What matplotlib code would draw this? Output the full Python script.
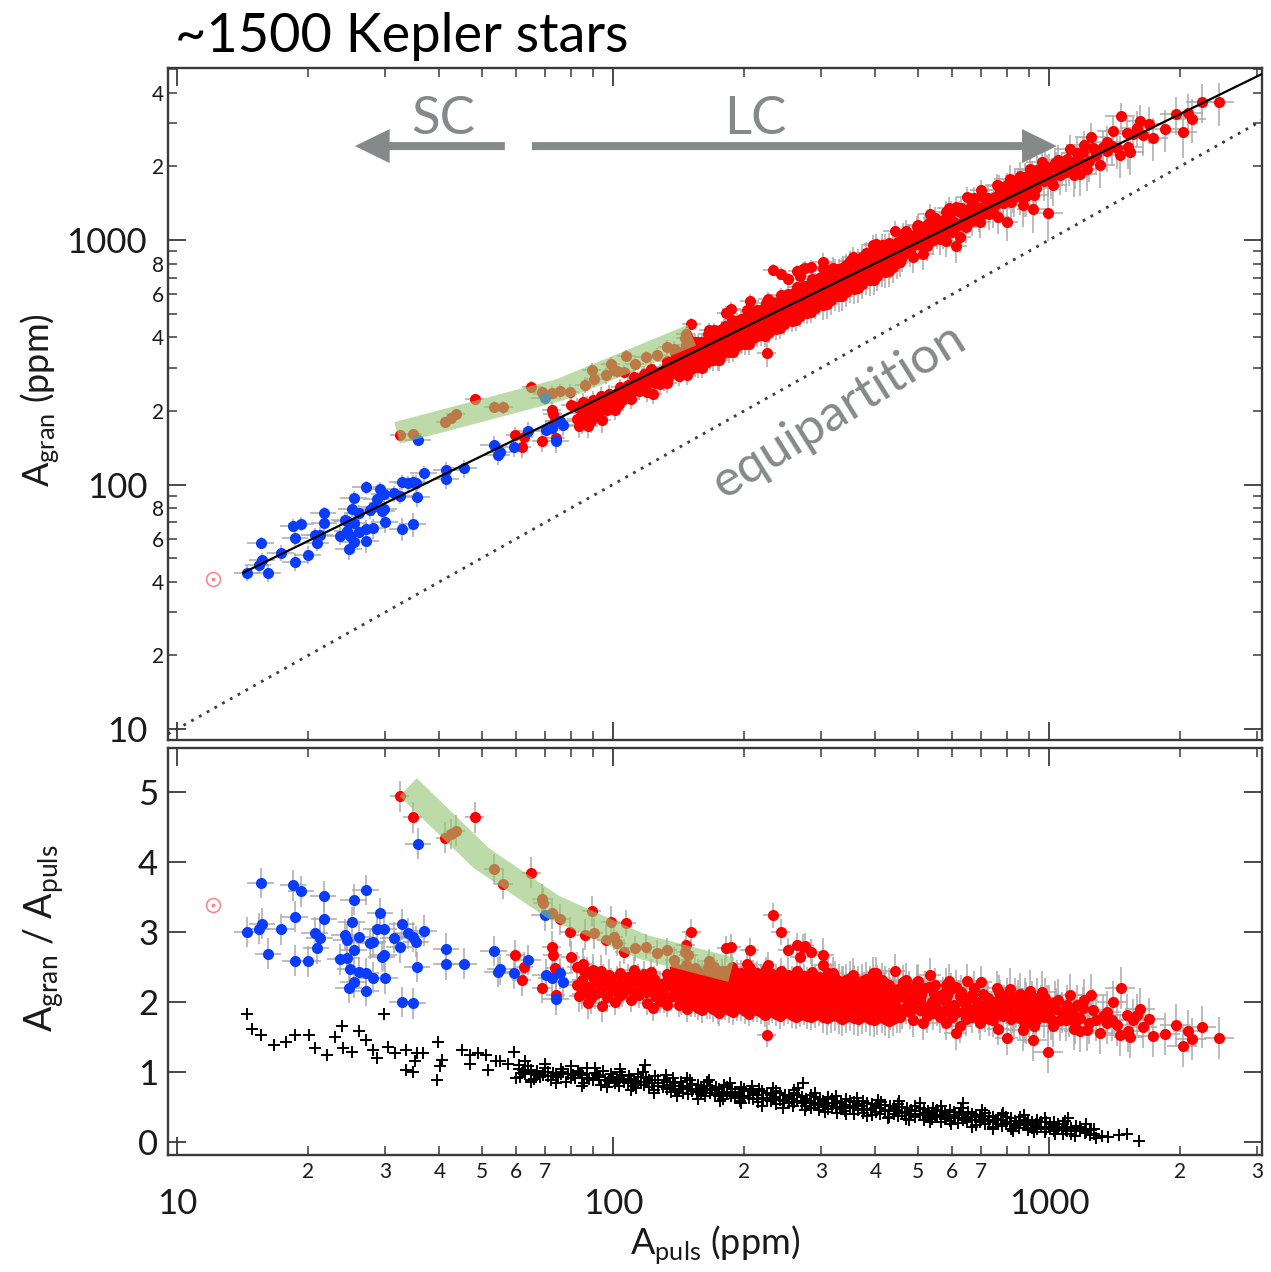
import numpy as np
import matplotlib
matplotlib.use("Agg")
import matplotlib.pyplot as plt
from matplotlib.ticker import FixedLocator, FuncFormatter
from matplotlib.patches import FancyArrowPatch, ArrowStyle

plt.rcParams['font.family'] = ['Lato', 'DejaVu Sans']
plt.rcParams['axes.unicode_minus'] = False

# ---------------------------------------------------------------- data
# Sun
sun_apuls = 12.1
sun_agran = 41.0

# short-cadence stars: (A_puls [ppm], A_gran / A_puls)
blue_stars = [
    (15.6, 3.70), (18.5, 3.67), (19.3, 3.58), (21.7, 3.51), (25.5, 3.46), (27.1, 3.60),
    (14.5, 3.00), (15.4, 3.05), (15.7, 3.12), (17.3, 3.04), (18.7, 3.22), (21.8, 3.19),
    (16.2, 2.69), (18.7, 2.59), (20.0, 2.58), (20.7, 2.99), (21.3, 2.92), (20.9, 2.77),
    (25.2, 3.14), (24.3, 2.96), (24.5, 2.89), (26.2, 2.93), (25.5, 2.74), (23.7, 2.61),
    (24.6, 2.63), (27.7, 2.84), (28.2, 2.86), (29.3, 3.27), (28.8, 3.04), (29.9, 3.05),
    (29.5, 2.65), (29.8, 2.67), (25.0, 2.47), (26.2, 2.43), (27.2, 2.41), (28.2, 2.35),
    (30.0, 2.34), (25.5, 2.28), (24.8, 2.20), (27.1, 2.16), (32.9, 3.11), (31.5, 2.92),
    (32.4, 2.78), (33.9, 2.98), (34.8, 2.93), (35.4, 2.86), (36.9, 3.02), (35.6, 2.50),
    (32.9, 2.00), (34.8, 1.98), (35.8, 4.26), (41.5, 2.76), (41.5, 2.54), (45.6, 2.55),
    (53.3, 2.73), (54.4, 2.43), (55.2, 2.47), (59.2, 2.41), (63.8, 2.60), (70.1, 2.39),
    (72.5, 2.34), (75.6, 2.41), (76.9, 2.28), (74.0, 2.04), (69.9, 3.24),
]

# long-cadence stars, low-amplitude end and outliers
red_sparse = [
    (32.4, 4.94), (34.7, 4.64), (48.2, 4.64), (65.0, 3.85), (41.3, 4.35), (42.5, 4.40),
    (43.6, 4.45), (53.3, 3.90), (56.1, 3.69), (68.8, 3.47), (69.0, 3.41), (72.5, 3.27),
    (75.6, 3.18), (86.3, 2.96), (90.5, 2.98), (96.6, 2.89), (100.4, 2.93), (102.3, 2.84),
    (106.2, 2.72), (112.3, 2.77), (118.9, 2.79), (125.9, 2.70), (133.3, 2.74), (138.3, 2.60),
    (146.5, 2.72), (149.0, 2.67), (170.6, 2.50), (173.6, 2.41), (89.3, 3.30), (98.9, 3.15),
    (107.4, 3.13), (151.4, 3.00), (59.7, 2.67), (62.6, 2.50), (61.7, 2.31), (68.6, 2.20),
    (72.5, 2.79), (72.9, 2.67), (73.5, 2.48), (74.0, 2.10), (80.0, 2.65), (82.7, 2.24),
    (83.5, 2.08), (87.8, 1.98), (94.4, 1.94), (123.3, 1.91), (133.3, 1.96), (143.3, 2.00),
    (175.4, 1.84), (79.7, 3.00), (82.8, 2.50), (85.4, 2.55), (87.2, 2.43), (90.0, 2.46),
    (147.0, 2.81), (182.0, 2.77), (187.0, 2.79), (203.0, 2.55), (206.0, 2.74),
    (233.0, 3.24), (243.0, 3.00), (252.0, 2.74), (265.0, 2.81), (273.0, 2.79), (285.0, 2.72),
    (303.0, 2.67), (303.0, 2.53), (268.0, 2.65), (227.0, 2.53), (225.0, 1.53), (320.0, 2.41),
    (337.0, 2.27), (356.0, 2.39), (395.0, 2.41), (275.0, 2.80),
]

# long-cadence stars, 85-140 ppm
red_dense_a = [
    (85, 2.12), (85, 2.31), (86, 2.44), (89, 2.05), (88, 2.21), (90, 2.36), (93, 2.15),
    (92, 2.29), (94, 2.45), (97, 2.07), (96, 2.23), (98, 2.39), (101, 2.00), (100, 2.17),
    (102, 2.33), (105, 2.11), (106, 2.25), (104, 2.41), (110, 2.03), (109, 2.18), (111, 2.30),
    (112, 2.46), (115, 2.10), (116, 2.22), (114, 2.36), (120, 1.99), (119, 2.15), (121, 2.27),
    (122, 2.43), (125, 2.08), (126, 2.21), (124, 2.33), (131, 2.02), (130, 2.14), (132, 2.29),
    (133, 2.40), (137, 2.09), (136, 2.23), (138, 2.35), (139, 2.49),
    (87, 2.18), (91, 2.12), (95, 2.32), (99, 2.26), (103, 2.08), (108, 2.36), (113, 2.15),
    (117, 2.30), (123, 2.18), (128, 2.26), (134, 2.06), (128, 2.02), (140, 2.16), (140, 2.30),
    (118, 2.40), (104, 2.22),
]

# long-cadence stars, 140-450 ppm
red_dense_b = [
    (142, 1.96), (143, 2.09), (141, 2.21), (144, 2.35), (142, 2.46),
    (148, 1.90), (147, 2.03), (149, 2.15), (148, 2.29), (150, 2.40), (147, 2.53),
    (154, 1.97), (155, 2.11), (153, 2.22), (156, 2.37), (154, 2.49),
    (160, 1.88), (161, 2.01), (159, 2.14), (162, 2.26), (160, 2.39),
    (167, 1.94), (166, 2.06), (168, 2.20), (167, 2.31), (169, 2.44), (166, 2.58),
    (174, 1.86), (175, 1.99), (173, 2.13), (176, 2.25), (174, 2.38),
    (181, 1.92), (182, 2.05), (180, 2.17), (183, 2.31), (181, 2.45),
    (189, 1.85), (188, 1.98), (190, 2.10), (189, 2.24), (191, 2.36), (188, 2.50),
    (197, 1.91), (198, 2.03), (196, 2.16), (199, 2.30), (197, 2.42),
    (205, 1.83), (206, 1.96), (204, 2.09), (207, 2.23), (205, 2.35), (206, 2.48),
    (214, 1.89), (215, 2.02), (213, 2.15), (216, 2.28), (214, 2.41),
    (223, 1.82), (224, 1.95), (222, 2.08), (225, 2.21), (223, 2.34), (224, 2.47),
    (232, 1.88), (233, 2.01), (231, 2.14), (234, 2.27), (232, 2.40),
    (242, 1.80), (243, 1.93), (241, 2.06), (244, 2.19), (242, 2.32), (243, 2.45),
    (252, 1.86), (253, 1.99), (251, 2.12), (254, 2.25), (252, 2.38),
    (263, 1.79), (264, 1.92), (262, 2.05), (265, 2.18), (263, 2.31), (264, 2.44),
    (274, 1.85), (275, 1.98), (273, 2.11), (276, 2.24), (274, 2.37),
    (285, 1.78), (286, 1.91), (284, 2.04), (287, 2.17), (285, 2.30), (286, 2.43),
    (297, 1.84), (298, 1.97), (296, 2.10), (299, 2.23), (297, 2.36),
    (310, 1.77), (311, 1.90), (309, 2.03), (312, 2.16), (310, 2.29), (311, 2.42),
    (323, 1.83), (324, 1.96), (322, 2.09), (325, 2.22), (323, 2.35),
    (336, 1.76), (337, 1.89), (335, 2.02), (338, 2.15), (336, 2.28),
    (350, 1.82), (351, 1.95), (349, 2.08), (352, 2.21), (350, 2.34),
    (365, 1.75), (366, 1.88), (364, 2.01), (367, 2.14), (365, 2.27),
    (380, 1.81), (381, 1.94), (379, 2.07), (382, 2.20), (380, 2.33),
    (396, 1.74), (397, 1.87), (395, 2.00), (398, 2.13), (396, 2.26),
    (413, 1.80), (414, 1.93), (412, 2.06), (415, 2.19), (413, 2.32),
    (430, 1.73), (431, 1.86), (429, 1.99), (432, 2.12), (430, 2.25),
    (448, 1.79), (449, 1.92), (447, 2.05), (450, 2.18),
]

red_dense_b2 = [
    (145, 2.02), (145, 2.15), (146, 2.28), (145, 2.41), (151, 1.96), (151, 2.09), (152, 2.22),
    (151, 2.34), (151, 2.47), (157, 1.92), (157, 2.05), (158, 2.17), (157, 2.30), (157, 2.43),
    (164, 1.94), (163, 2.07), (164, 2.20), (163, 2.33), (165, 2.50), (170, 1.90), (171, 2.00),
    (170, 2.13), (171, 2.26), (170, 2.38), (178, 1.92), (177, 2.05), (178, 2.18), (177, 2.31),
    (178, 2.44), (185, 1.88), (185, 2.00), (186, 2.12), (185, 2.25), (186, 2.38), (193, 1.91),
    (193, 2.04), (194, 2.17), (193, 2.29), (193, 2.42), (201, 1.87), (201, 1.99), (202, 2.12),
    (201, 2.26), (201, 2.39), (210, 1.90), (209, 2.02), (210, 2.15), (209, 2.29), (210, 2.42),
    (219, 1.86), (218, 1.98), (219, 2.11), (218, 2.24), (219, 2.37), (228, 1.85), (227, 1.97),
    (228, 2.10), (227, 2.23), (228, 2.36), (237, 1.83), (237, 1.96), (238, 2.08), (237, 2.21),
    (237, 2.34), (247, 1.84), (247, 1.96), (248, 2.09), (247, 2.22), (247, 2.35), (258, 1.81),
    (257, 1.94), (258, 2.07), (257, 2.20), (258, 2.33), (268, 1.82), (269, 1.95), (268, 2.08),
    (269, 2.21), (268, 2.34), (279, 1.80), (280, 1.93), (279, 2.06), (280, 2.19), (279, 2.32),
    (291, 1.81), (291, 1.94), (292, 2.07), (291, 2.20), (291, 2.33), (303, 1.79), (304, 1.92),
    (303, 2.05), (304, 2.18), (303, 2.31), (316, 1.80), (317, 1.93), (316, 2.06), (317, 2.19),
    (316, 2.32), (330, 1.78), (329, 1.91), (330, 2.04), (329, 2.17), (330, 2.30), (343, 1.79),
    (343, 1.92), (344, 2.05), (343, 2.18), (343, 2.31), (357, 1.77), (358, 1.90), (357, 2.03),
    (358, 2.16), (357, 2.29), (372, 1.78), (373, 1.91), (372, 2.04), (373, 2.17), (372, 2.30),
    (388, 1.76), (388, 1.89), (389, 2.02), (388, 2.15), (388, 2.28), (404, 1.77), (405, 1.90),
    (404, 2.03), (405, 2.16), (404, 2.29), (421, 1.75), (421, 1.88), (422, 2.01), (421, 2.14),
    (421, 2.27), (439, 1.76), (439, 1.89), (440, 2.02), (439, 2.15),
]

# long-cadence stars, above 400 ppm
red_dense_c = [
    (443, 2.45), (462, 2.29), (497, 2.29), (534, 2.39), (530, 2.22), (612, 2.22), (772, 2.08),
    (907, 2.16), (1050, 2.03), (1202, 2.03), (1459, 2.20), (1135, 1.84), (1260, 1.89),
    (1397, 1.74), (1506, 1.81), (1590, 1.81), (1641, 1.64), (1735, 1.51), (1845, 1.54),
    (1954, 1.67), (2088, 1.59), (2126, 1.47), (2025, 1.37), (2240, 1.64), (2459, 1.49),
    (800, 1.48), (918, 1.46), (870, 1.60), (997, 1.29), (1020, 1.65), (1060, 1.74),
    (1140, 1.62), (1220, 1.60), (1309, 1.55), (1355, 1.70), (1455, 1.53), (1530, 1.50),
    (1178, 1.77), (1196, 1.91), (1285, 1.74), (1355, 1.86), (1093, 1.74), (997, 1.84),
    (935, 1.86), (888, 1.70), (858, 1.77), (825, 1.86), (795, 1.93), (772, 1.91), (745, 1.74),
    (765, 1.62), (715, 1.81), (695, 1.70), (667, 1.79), (695, 1.93), (648, 1.93), (625, 1.65),
    (612, 1.55), (581, 1.70), (600, 1.79), (562, 1.79), (543, 1.84), (524, 1.93), (506, 2.03),
    (488, 2.05), (471, 1.93), (455, 2.08), (440, 2.12), (425, 2.03), (410, 1.93), (432, 1.84),
    (455, 1.79), (488, 1.74), (515, 1.70), (462, 2.17), (497, 2.15), (572, 2.12), (625, 2.08),
    (667, 2.10), (581, 2.00), (636, 1.86), (552, 2.00), (418, 2.17), (422, 1.89), (842, 1.93),
    (888, 1.98), (935, 1.74), (1178, 1.58), (1235, 1.70), (1430, 1.67), (1560, 1.74),
    (1520, 1.58), (401, 2.41), (471, 2.32), (502, 2.30), (560, 2.05), (590, 1.92), (640, 2.00),
    (680, 1.88), (720, 2.00), (740, 1.88), (820, 1.75), (850, 2.02), (960, 1.95), (980, 2.05),
    (910, 1.90), (760, 2.20), (700, 2.28), (650, 2.30), (590, 2.30), (545, 2.12), (480, 1.86),
    (520, 2.20), (580, 2.25), (860, 2.12), (940, 2.05), (800, 2.10), (1000, 1.95), (1040, 1.90),
    (1100, 1.95), (1120, 2.10), (1160, 1.95), (1250, 2.10), (1330, 1.80), (1400, 2.00),
    (1620, 1.90), (1700, 1.75),
    (460, 1.85), (470, 2.05), (478, 2.20), (485, 1.95), (505, 1.88), (510, 2.10), (525, 1.80),
    (540, 2.00), (548, 2.25), (555, 1.90), (570, 1.85), (585, 2.08), (595, 2.18), (605, 1.95),
    (615, 1.85), (630, 2.15), (645, 1.75), (655, 2.05), (660, 1.88), (672, 2.20), (685, 2.00),
    (690, 1.80), (705, 2.12), (710, 1.92), (725, 2.05), (730, 1.75), (750, 2.00), (755, 1.85),
    (770, 2.15), (785, 1.80), (790, 2.00), (810, 1.95), (815, 2.18), (830, 1.80), (835, 2.05),
    (865, 1.90), (875, 1.72), (880, 2.05), (900, 1.80), (915, 2.00), (925, 1.65), (950, 1.88),
    (965, 2.15), (975, 1.78), (990, 1.95), (1010, 1.75), (1030, 2.00), (1070, 1.85),
    (1110, 1.80), (1150, 1.70),
]

# second amplitude ratio (black crosses): (A_puls [ppm], ratio)
black_sparse = [
    (14.5, 1.83), (29.8, 1.83), (14.9, 1.62), (15.6, 1.53), (16.7, 1.39), (17.8, 1.43),
    (18.7, 1.53), (20.1, 1.53), (20.7, 1.34), (22.1, 1.24), (23.0, 1.50), (23.9, 1.65),
    (24.1, 1.34), (25.2, 1.29), (26.2, 1.58), (27.2, 1.46), (28.2, 1.31), (28.8, 1.20),
    (30.5, 1.36), (31.6, 1.27), (33.5, 1.31), (35.5, 1.27), (36.7, 1.27), (33.5, 1.03),
    (34.8, 1.00), (39.7, 1.43), (40.5, 1.17), (39.4, 0.89), (35.2, 1.15), (40.1, 1.08),
    (45.0, 1.31), (47.0, 1.24), (49.1, 1.27), (47.0, 1.12), (51.1, 1.24), (51.7, 1.03),
    (53.8, 1.15), (55.1, 1.15), (57.5, 1.12), (59.3, 1.28), (62.9, 1.15), (62.2, 1.03),
    (61.2, 0.93), (65.0, 0.89), (66.9, 0.98), (118.5, 1.10), (273.0, 0.84), (266.0, 0.77),
    (634.0, 0.56), (1104.0, 0.34), (1251.0, 0.17), (1367.0, 0.07), (1509.0, 0.12),
    (1609.0, 0.02), (1450.0, 0.10),
]

black_band = [
    (60, 0.92), (61, 1.04), (63, 0.97), (64, 1.08), (66, 0.90), (67, 1.01), (69, 0.95),
    (70, 1.06), (72, 0.88), (73, 0.99), (75, 0.93), (76, 1.04), (78, 0.86), (79, 0.97),
    (82, 0.91), (83, 1.02), (86, 0.84), (85, 0.95), (87, 1.05), (90, 0.89), (91, 0.99),
    (94, 0.82), (93, 0.93), (95, 1.02), (98, 0.87), (99, 0.97), (103, 0.80), (102, 0.90),
    (104, 1.00), (108, 0.84), (109, 0.94), (113, 0.77), (112, 0.87), (114, 0.97), (118, 0.81),
    (119, 0.91), (124, 0.74), (123, 0.84), (125, 0.94), (130, 0.78), (131, 0.88), (136, 0.71),
    (135, 0.81), (137, 0.91), (142, 0.75), (143, 0.85), (149, 0.68), (148, 0.78), (150, 0.88),
    (156, 0.72), (157, 0.82), (163, 0.65), (162, 0.75), (164, 0.85), (171, 0.69), (172, 0.79),
    (179, 0.62), (178, 0.72), (180, 0.82), (187, 0.66), (188, 0.76), (196, 0.59), (195, 0.69),
    (197, 0.79), (205, 0.63), (206, 0.73), (215, 0.57), (214, 0.67), (216, 0.76), (225, 0.60),
    (226, 0.70), (236, 0.54), (235, 0.64), (237, 0.73), (247, 0.58), (248, 0.67), (259, 0.52),
    (258, 0.61), (260, 0.70), (271, 0.55), (272, 0.64), (284, 0.49), (283, 0.58), (285, 0.67),
    (297, 0.45), (296, 0.53), (298, 0.62), (311, 0.47), (310, 0.56), (312, 0.64), (326, 0.42),
    (325, 0.50), (327, 0.59), (341, 0.44), (340, 0.53), (342, 0.62), (357, 0.40), (356, 0.48),
    (358, 0.57), (374, 0.42), (373, 0.51), (375, 0.59), (392, 0.38), (391, 0.46), (393, 0.54),
    (410, 0.40), (409, 0.48), (411, 0.57), (430, 0.36), (429, 0.44), (431, 0.52), (450, 0.37),
    (449, 0.46), (451, 0.54), (471, 0.33), (470, 0.41), (472, 0.49), (493, 0.35), (492, 0.44),
    (494, 0.52), (516, 0.31), (515, 0.39), (517, 0.47), (540, 0.33), (539, 0.41), (541, 0.49),
    (566, 0.29), (565, 0.36), (567, 0.44), (592, 0.30), (591, 0.39), (593, 0.46), (620, 0.27),
    (619, 0.34), (621, 0.42), (650, 0.28), (649, 0.36), (651, 0.43), (680, 0.24), (679, 0.31),
    (681, 0.39), (712, 0.25), (711, 0.33), (713, 0.41), (745, 0.22), (744, 0.29), (746, 0.36),
    (780, 0.23), (779, 0.31), (781, 0.38), (817, 0.19), (816, 0.26), (818, 0.34), (855, 0.20),
    (854, 0.28), (856, 0.35), (895, 0.17), (894, 0.24), (896, 0.31), (937, 0.18), (936, 0.25),
    (938, 0.32), (981, 0.14), (980, 0.21), (982, 0.28), (1027, 0.15), (1026, 0.23),
    (1028, 0.29), (1075, 0.12), (1074, 0.18), (1076, 0.25), (1125, 0.12), (1126, 0.20),
    (1180, 0.15), (1181, 0.22), (1240, 0.10), (1241, 0.17),
]

black_band_b = [
    (62, 0.98), (65, 1.03), (68, 0.93), (71, 1.00), (74, 0.95), (77, 1.00), (80, 0.92),
    (84, 0.99), (88, 0.90), (92, 0.95), (96, 0.88), (100, 0.93), (101, 0.84), (105, 0.95),
    (106, 0.86), (110, 0.90), (111, 0.80), (116, 0.86), (116, 0.93), (121, 0.78), (121, 0.88),
    (127, 0.80), (127, 0.89), (133, 0.76), (133, 0.85), (139, 0.74), (139, 0.84), (145, 0.70),
    (145, 0.80), (152, 0.73), (152, 0.83), (159, 0.68), (159, 0.78), (167, 0.70), (167, 0.80),
    (175, 0.66), (175, 0.75), (183, 0.68), (183, 0.78), (191, 0.63), (191, 0.72), (200, 0.65),
    (200, 0.75), (210, 0.61), (210, 0.70), (220, 0.63), (220, 0.73), (230, 0.58), (230, 0.67),
    (241, 0.60), (241, 0.70), (253, 0.56), (253, 0.64), (265, 0.58), (265, 0.67), (277, 0.52),
    (277, 0.61), (290, 0.55), (290, 0.64), (304, 0.50), (304, 0.59), (318, 0.52), (318, 0.61),
    (333, 0.47), (333, 0.56), (349, 0.49), (349, 0.58), (365, 0.45), (365, 0.54), (383, 0.47),
    (383, 0.55), (401, 0.43), (401, 0.51), (420, 0.44), (420, 0.53), (440, 0.40), (440, 0.49),
    (460, 0.42), (460, 0.50), (482, 0.38), (482, 0.46), (505, 0.40), (505, 0.48), (528, 0.36),
    (528, 0.44), (553, 0.37), (553, 0.46), (579, 0.33), (579, 0.41), (606, 0.35), (606, 0.43),
    (635, 0.31), (635, 0.39), (665, 0.32), (665, 0.40), (696, 0.28), (696, 0.36), (728, 0.30),
    (728, 0.37), (762, 0.26), (762, 0.33), (798, 0.27), (798, 0.35), (836, 0.23), (836, 0.30),
    (875, 0.24), (875, 0.32), (916, 0.20), (916, 0.28), (959, 0.22), (959, 0.29), (1004, 0.18),
    (1004, 0.25), (1050, 0.19), (1050, 0.26), (1100, 0.15), (1100, 0.22), (1152, 0.16),
    (1152, 0.23), (1210, 0.13), (1210, 0.19), (1270, 0.11), (1270, 0.18), (1320, 0.09),
]

black_band_edges = [
    (61, 1.10), (65, 0.86), (70, 1.12), (74, 0.84), (80, 1.08), (85, 0.80), (91, 1.06),
    (97, 0.78), (104, 1.04), (110, 0.74), (117, 1.00), (124, 0.70), (132, 0.96), (140, 0.66),
    (148, 0.92), (157, 0.62), (166, 0.88), (176, 0.58), (186, 0.84), (197, 0.55), (208, 0.80),
    (220, 0.52), (233, 0.77), (246, 0.49), (260, 0.74), (275, 0.46), (291, 0.70), (307, 0.43),
    (325, 0.66), (343, 0.40), (363, 0.63), (383, 0.37), (405, 0.60), (428, 0.34), (452, 0.58),
    (478, 0.31), (505, 0.55), (534, 0.28), (564, 0.51), (596, 0.25), (630, 0.48), (665, 0.22),
    (703, 0.45), (743, 0.19), (785, 0.42), (829, 0.16), (876, 0.38), (926, 0.14), (978, 0.34),
    (1033, 0.11), (1090, 0.30), (1150, 0.08), (1215, 0.25), (1280, 0.06),
    (63, 1.00), (67, 0.96), (71, 0.94), (76, 0.97), (81, 0.95), (87, 0.92), (93, 0.89),
    (99, 0.91), (106, 0.88), (113, 0.83), (120, 0.85), (127, 0.84), (135, 0.78), (143, 0.80),
    (151, 0.76), (160, 0.73), (169, 0.74), (178, 0.68), (188, 0.71), (198, 0.66), (209, 0.67),
    (221, 0.62), (233, 0.63), (246, 0.60), (260, 0.57), (274, 0.59), (289, 0.55), (305, 0.53),
    (322, 0.55), (339, 0.50), (358, 0.52), (377, 0.47), (398, 0.49), (420, 0.45), (443, 0.46),
    (467, 0.43), (492, 0.40), (519, 0.42), (548, 0.38), (578, 0.36), (610, 0.38), (643, 0.34),
    (678, 0.35), (715, 0.30), (754, 0.32), (796, 0.29), (839, 0.25), (885, 0.27), (933, 0.23),
    (984, 0.19), (1038, 0.21), (1095, 0.17), (1155, 0.18), (1218, 0.14),
]

# typical uncertainties read per amplitude range
err_band_edges = [100.0, 300.0, 800.0]
ratio_err_band = [0.22, 0.18, 0.24, 0.30]
apuls_frac_err_band = [0.05, 0.05, 0.06, 0.08]
blue_ratio_err = 0.22
blue_apuls_frac_err = 0.07

# power-law fit A_gran = norm * A_puls ** slope
fit_norm = 4.3
fit_slope = 0.873
fit_start = 14.2

# highlighted sequence
band_top_apuls = [32.0, 75.5, 151.7]
band_top_agran = [162.6, 243.8, 408.0]
band_bot_apuls = [33.9, 49.8, 72.8, 116.6, 187.0]
band_bot_ratio = [5.07, 4.06, 3.36, 2.79, 2.46]

# SC / LC regimes (A_puls limits of the arrows, arrow height in A_gran)
sc_arrow = (56.5, 25.6)
lc_arrow = (65.2, 1042.0)
arrow_level = 2421.0

xlim = (9.54, 3080.0)
ylim_top = (9.02, 5050.0)
ylim_bot = (-0.186, 5.629)

# ---------------------------------------------------------------- arrays
blue = np.array(blue_stars)
red = np.array(red_sparse + red_dense_a + red_dense_b + red_dense_b2 + red_dense_c,
               dtype=float)
black = np.array(black_sparse + black_band + black_band_b + black_band_edges, dtype=float)


def uncertainties(apuls):
    idx = np.searchsorted(err_band_edges, apuls)
    return (np.array(apuls_frac_err_band)[idx] * apuls,
            np.array(ratio_err_band)[idx])


red_x, red_r = red[:, 0], red[:, 1]
red_g = red_x * red_r
red_xe, red_re = uncertainties(red_x)

blue_x, blue_r = blue[:, 0], blue[:, 1]
blue_g = blue_x * blue_r
blue_xe = blue_apuls_frac_err * blue_x
blue_re = np.full_like(blue_x, blue_ratio_err)

# ---------------------------------------------------------------- figure
W, H = 1271, 1272
fig = plt.figure(figsize=(W / 100, H / 100), dpi=100)
fig.patch.set_facecolor('white')

ax1 = fig.add_axes([168 / W, 1 - 740 / H, 1094 / W, 672 / H])
ax2 = fig.add_axes([168 / W, 1 - 1155 / H, 1094 / W, 407 / H])

RED = '#ff0000'
BLUE = '#0a3cff'
ERR = '#a9a9a9'
GREY = '#848989'
BAND = '#93c673'
SPINE = '#3a3a3a'

# ---- top panel
ax1.errorbar(red_x, red_g, xerr=red_xe, yerr=red_re * red_x, fmt='none',
             ecolor=ERR, elinewidth=1.1, capsize=0, zorder=1)
ax1.errorbar(blue_x, blue_g, xerr=blue_xe, yerr=blue_re * blue_x, fmt='none',
             ecolor=ERR, elinewidth=1.1, capsize=0, zorder=1)
ax1.plot(red_x, red_g, 'o', color=RED, ms=8, mec='none', zorder=3)
ax1.plot(blue_x, blue_g, 'o', color=BLUE, ms=8, mec='none', zorder=3.5)

eq = np.array(xlim)
ax1.plot(eq, eq, color='#3c3c3c', lw=2.0, ls=(0, (1, 2.2)), zorder=2)

fx = np.array([fit_start, xlim[1]])
ax1.plot(fx, fit_norm * fx ** fit_slope, color='black', lw=1.6, zorder=5)

ax1.plot(band_top_apuls, band_top_agran, color=BAND, alpha=0.62, lw=16,
         solid_capstyle='butt', solid_joinstyle='miter', zorder=4)

ax1.plot(sun_apuls, sun_agran, 'o', ms=10, mfc='none', mec='#ff8080', mew=1.1, zorder=6)
ax1.plot(sun_apuls, sun_agran, 'o', ms=1.6, color='#ff8080', zorder=6)

style = ArrowStyle('simple', head_length=1.0, head_width=0.98, tail_width=0.23)
for tail, tip in (sc_arrow, lc_arrow):
    ax1.add_patch(FancyArrowPatch((tail, arrow_level), (tip, arrow_level),
                                  arrowstyle=style, mutation_scale=25, color=GREY,
                                  lw=0, shrinkA=0, shrinkB=0, zorder=6))
ax1.text(40.7, 3120, 'SC', color=GREY, fontsize=38, ha='center', va='center')
ax1.text(212, 3120, 'LC', color=GREY, fontsize=38, ha='center', va='center')
ax1.text(330, 200, 'equipartition', color=GREY, fontsize=37, rotation=32,
         ha='center', va='center', rotation_mode='anchor')

# ---- bottom panel
ax2.errorbar(red_x, red_r, xerr=red_xe, yerr=red_re, fmt='none',
             ecolor=ERR, elinewidth=1.1, capsize=0, zorder=1)
ax2.errorbar(blue_x, blue_r, xerr=blue_xe, yerr=blue_re, fmt='none',
             ecolor=ERR, elinewidth=1.1, capsize=0, zorder=1)
ax2.plot(red_x, red_r, 'o', color=RED, ms=8, mec='none', zorder=3)
ax2.plot(blue_x, blue_r, 'o', color=BLUE, ms=8, mec='none', zorder=3.5)
ax2.plot(black[:, 0], black[:, 1], '+', color='black', ms=8, mew=1.4, zorder=3)
ax2.plot(band_bot_apuls, band_bot_ratio, color=BAND, alpha=0.62, lw=18,
         solid_capstyle='butt', solid_joinstyle='miter', zorder=4)
ax2.plot(sun_apuls, sun_agran / sun_apuls, 'o', ms=10, mfc='none', mec='#ff8080',
         mew=1.1, zorder=6)
ax2.plot(sun_apuls, sun_agran / sun_apuls, 'o', ms=1.6, color='#ff8080', zorder=6)

# ---------------------------------------------------------------- axes
decade_major = [10, 100, 1000]
x_minor = [m * 10 ** k for k in (1, 2, 3) for m in range(2, 10)]
y_minor = [m * 10 ** k for k in (0, 1, 2, 3) for m in range(2, 10)]


def mantissa(v):
    return int(round(v / 10 ** np.floor(np.log10(v) + 1e-9)))


x_minor_fmt = FuncFormatter(lambda v, p: str(mantissa(v)) if mantissa(v) <= 7 else '')
y_minor_fmt = FuncFormatter(lambda v, p: str(mantissa(v)) if mantissa(v) in (2, 4, 6, 8) else '')
major_fmt = FuncFormatter(lambda v, p: '%d' % round(v))

for ax in (ax1, ax2):
    ax.set_xscale('log')
    ax.set_xlim(*xlim)
    ax.xaxis.set_major_locator(FixedLocator(decade_major))
    ax.xaxis.set_minor_locator(FixedLocator(x_minor))
    for s in ax.spines.values():
        s.set_linewidth(1.7)
        s.set_color(SPINE)
    ax.tick_params(which='both', direction='in', top=True, right=True,
                   color=SPINE, labelcolor='#1a1a1a')
    ax.tick_params(which='major', length=13, width=1.3)
    ax.tick_params(which='minor', length=6.5, width=1.1)

ax1.set_yscale('log')
ax1.set_ylim(*ylim_top)
ax1.yaxis.set_major_locator(FixedLocator(decade_major))
ax1.yaxis.set_minor_locator(FixedLocator(y_minor))
ax1.yaxis.set_major_formatter(major_fmt)
ax1.yaxis.set_minor_formatter(y_minor_fmt)
ax1.tick_params(axis='x', which='both', labelbottom=False)
ax1.tick_params(axis='y', which='major', labelsize=25, pad=15)
ax1.tick_params(axis='y', which='minor', labelsize=15, pad=3)

ax2.set_ylim(*ylim_bot)
ax2.yaxis.set_major_locator(FixedLocator([0, 1, 2, 3, 4, 5]))
ax2.yaxis.set_minor_locator(FixedLocator([]))
ax2.tick_params(axis='y', which='major', labelsize=25, pad=7)
ax2.xaxis.set_major_formatter(major_fmt)
ax2.xaxis.set_minor_formatter(x_minor_fmt)
ax2.tick_params(axis='x', which='major', labelsize=25, pad=24)
ax2.tick_params(axis='x', which='minor', labelsize=15, pad=5)

# ---------------------------------------------------------------- labels
fig.text(175 / W, 1 - 52 / H, '~1500 Kepler stars', fontsize=39, ha='left',
         va='baseline', color='black')
fig.text(40 / W, 1 - 400 / H, r'A$_{\mathregular{gran}}$ (ppm)', fontsize=26,
         rotation=90, ha='center', va='center', color='#1a1a1a')
fig.text(44 / W, 1 - 938 / H, r'A$_{\mathregular{gran}}$ / A$_{\mathregular{puls}}$',
         fontsize=27, rotation=90, ha='center', va='center', color='#1a1a1a')
fig.text(715 / W, 1 - 1245 / H, r'A$_{\mathregular{puls}}$ (ppm)', fontsize=26,
         ha='center', va='center', color='#1a1a1a')

fig.savefig('out.png', dpi=100, facecolor='white')
